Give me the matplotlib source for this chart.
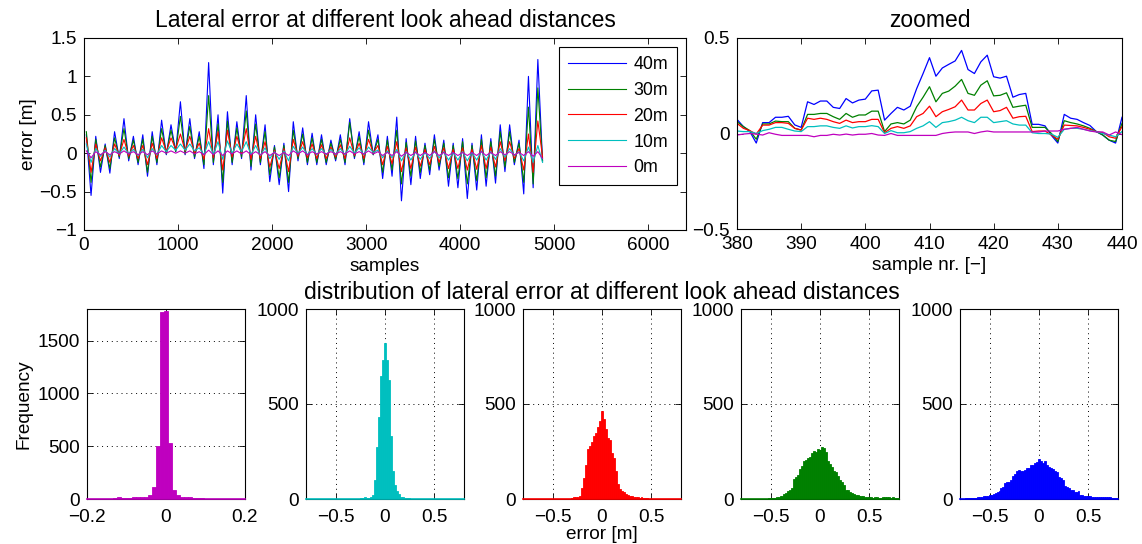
import numpy as np
import matplotlib
matplotlib.use("Agg")
import matplotlib.pyplot as plt
from matplotlib.ticker import FuncFormatter

plt.rcParams['font.family'] = ['Liberation Sans', 'DejaVu Sans']
plt.rcParams['font.size'] = 13.7

# colours (old matlab default order)
col = {'40m': (0, 0, 1), '30m': (0, 0.5, 0), '20m': (1, 0, 0),
       '10m': (0, 0.75, 0.75), '0m': (0.75, 0, 0.75)}
labels = ['40m', '30m', '20m', '10m', '0m']

# --- lateral error, read per 100-sample window: max and min of each series
win_start = np.arange(0, 4900, 100)
hi_40 = [0.24, 0.22, 0.12, 0.28, 0.45, 0.22, 0.24, 0.28, 0.43, 0.37, 0.67, 0.45, 0.28, 1.18, 0.50, 0.54, 0.41,
         0.75, 0.50, 0.37, 0.10, 0.13, 0.41, 0.33, 0.26, 0.24, 0.17, 0.24, 0.45, 0.28, 0.41, 0.24, 0.22, 0.47,
         0.19, 0.22, 0.13, 0.24, 0.17, 0.13, 0.19, 0.13, 0.24, 0.19, 0.37, 0.37, 0.17, 1.00, 1.22]
lo_40 = [-0.55, -0.25, -0.26, -0.07, -0.10, -0.15, -0.30, -0.15, -0.02, 0.02, -0.02, -0.07, -0.20, -0.15, -0.52,
         -0.15, -0.07, -0.22, -0.15, -0.37, -0.41, -0.50, -0.10, -0.15, -0.15, -0.15, -0.10, -0.15, -0.07, -0.15,
         -0.02, -0.33, -0.30, -0.62, -0.41, -0.33, -0.28, -0.22, -0.43, -0.45, -0.59, -0.48, -0.43, -0.39, -0.24,
         -0.15, -0.53, -0.45, -0.10]
hi_30 = [0.28, 0.18, 0.10, 0.20, 0.32, 0.17, 0.18, 0.22, 0.32, 0.30, 0.48, 0.35, 0.22, 0.75, 0.38, 0.42, 0.33,
         0.55, 0.38, 0.28, 0.08, 0.10, 0.30, 0.25, 0.20, 0.18, 0.13, 0.18, 0.40, 0.22, 0.30, 0.18, 0.17, 0.30,
         0.14, 0.16, 0.10, 0.18, 0.13, 0.10, 0.15, 0.10, 0.18, 0.15, 0.28, 0.28, 0.13, 0.60, 0.85]
lo_30 = [-0.38, -0.18, -0.20, -0.05, -0.07, -0.12, -0.25, -0.12, -0.01, 0.02, -0.01, -0.05, -0.15, -0.12, -0.38,
         -0.12, -0.05, -0.17, -0.12, -0.28, -0.32, -0.38, -0.07, -0.12, -0.12, -0.12, -0.08, -0.12, -0.05, -0.12,
         -0.02, -0.25, -0.22, -0.40, -0.30, -0.25, -0.22, -0.17, -0.32, -0.33, -0.40, -0.36, -0.32, -0.30, -0.18,
         -0.12, -0.38, -0.40, -0.10]
hi_20 = [0.20, 0.12, 0.07, 0.12, 0.18, 0.10, 0.10, 0.13, 0.20, 0.20, 0.25, 0.22, 0.13, 0.32, 0.28, 0.30, 0.22,
         0.32, 0.22, 0.15, 0.04, 0.06, 0.18, 0.15, 0.12, 0.11, 0.08, 0.11, 0.20, 0.13, 0.18, 0.10, 0.09, 0.15,
         0.07, 0.08, 0.05, 0.09, 0.07, 0.05, 0.07, 0.05, 0.10, 0.08, 0.15, 0.15, 0.06, 0.25, 0.42]
lo_20 = [-0.25, -0.10, -0.12, -0.03, -0.04, -0.07, -0.15, -0.07, 0.02, 0.05, 0.03, 0.00, -0.08, -0.06, -0.22,
         -0.05, 0.00, -0.08, -0.07, -0.18, -0.20, -0.24, -0.04, -0.06, -0.07, -0.07, -0.05, -0.07, -0.03, -0.07,
         0.00, -0.15, -0.14, -0.24, -0.20, -0.17, -0.15, -0.12, -0.20, -0.20, -0.22, -0.21, -0.20, -0.18, -0.10,
         -0.07, -0.22, -0.25, -0.05]
hi_10 = [0.12, 0.06, 0.04, 0.06, 0.08, 0.05, 0.05, 0.06, 0.10, 0.10, 0.12, 0.12, 0.07, 0.15, 0.15, 0.16, 0.12,
         0.15, 0.10, 0.07, 0.02, 0.03, 0.09, 0.08, 0.06, 0.06, 0.05, 0.06, 0.09, 0.07, 0.08, 0.04, 0.03, 0.05,
         0.02, 0.02, 0.01, 0.03, 0.02, 0.01, 0.02, 0.01, 0.03, 0.02, 0.06, 0.06, 0.02, 0.08, 0.10]
lo_10 = [-0.12, -0.04, -0.05, -0.01, -0.01, -0.03, -0.06, -0.02, 0.02, 0.04, 0.04, 0.03, -0.02, -0.02, -0.08,
         0.00, 0.02, -0.02, -0.03, -0.07, -0.08, -0.10, -0.01, -0.02, -0.02, -0.02, -0.02, -0.02, 0.00, -0.02,
         0.01, -0.06, -0.06, -0.10, -0.09, -0.08, -0.07, -0.06, -0.09, -0.09, -0.10, -0.09, -0.09, -0.08, -0.05,
         -0.03, -0.10, -0.12, -0.12]
hi_0 = [0.03, 0.02, 0.02, 0.02, 0.03, 0.02, 0.02, 0.03, 0.03, 0.03, 0.03, 0.03, 0.02, 0.04, 0.03, 0.03, 0.03,
        0.03, 0.02, 0.02, 0.01, 0.01, 0.03, 0.03, 0.02, 0.02, 0.02, 0.02, 0.03, 0.02, 0.03, 0.02, 0.01, 0.02,
        0.01, 0.01, 0.01, 0.02, 0.01, 0.01, 0.01, 0.01, 0.02, 0.01, 0.02, 0.02, 0.01, 0.02, 0.02]
lo_0 = [-0.06, -0.02, -0.02, -0.01, -0.01, -0.02, -0.02, -0.01, 0.00, 0.00, 0.00, -0.01, -0.02, -0.02, -0.03,
        -0.01, -0.01, -0.02, -0.02, -0.03, -0.03, -0.03, -0.01, -0.02, -0.01, -0.01, -0.01, -0.01, -0.01, -0.01,
        -0.01, -0.03, -0.03, -0.04, -0.03, -0.03, -0.03, -0.03, -0.03, -0.03, -0.03, -0.03, -0.03, -0.03, -0.02,
        -0.02, -0.03, -0.04, -0.07]
hi_all = [hi_40, hi_30, hi_20, hi_10, hi_0]
lo_all = [lo_40, lo_30, lo_20, lo_10, lo_0]

# --- zoomed part, samples 380..440
zoom_x = np.arange(380, 441)
z_40 = [0.074, 0.036, 0.01, -0.05, 0.057, 0.057, 0.085, 0.085, 0.09, 0.045, 0.032, 0.166, 0.152, 0.17, 0.17,
        0.137, 0.131, 0.183, 0.16, 0.175, 0.18, 0.223, 0.227, 0.07, 0.105, 0.137, 0.123, 0.143, 0.235, 0.314,
        0.397, 0.30, 0.343, 0.362, 0.38, 0.435, 0.335, 0.314, 0.375, 0.41, 0.297, 0.29, 0.30, 0.19, 0.204, 0.21,
        0.048, 0.048, 0.04, -0.01, -0.05, 0.10, 0.08, 0.074, 0.057, 0.042, 0.01, -0.008, -0.035, -0.05, 0.085]
z_30 = [0.062, 0.036, 0.015, -0.03, 0.05, 0.05, 0.065, 0.062, 0.062, 0.027, 0.018, 0.10, 0.10, 0.105, 0.105,
        0.088, 0.074, 0.105, 0.085, 0.097, 0.097, 0.117, 0.117, 0.01, 0.05, 0.057, 0.05, 0.07, 0.14, 0.19,
        0.245, 0.166, 0.21, 0.222, 0.248, 0.283, 0.21, 0.20, 0.253, 0.276, 0.197, 0.20, 0.213, 0.137, 0.143,
        0.148, 0.032, 0.032, 0.032, 0.0, -0.042, 0.067, 0.057, 0.05, 0.04, 0.027, 0.01, -0.008, -0.035, -0.042,
        0.053]
z_20 = [0.053, 0.027, 0.015, -0.003, 0.044, 0.044, 0.057, 0.057, 0.053, 0.027, 0.018, 0.08, 0.074, 0.08, 0.074,
        0.062, 0.053, 0.07, 0.057, 0.062, 0.062, 0.074, 0.074, 0.004, 0.027, 0.036, 0.027, 0.04, 0.088, 0.105,
        0.143, 0.088, 0.114, 0.126, 0.14, 0.175, 0.123, 0.123, 0.157, 0.175, 0.114, 0.12, 0.137, 0.08, 0.088,
        0.09, 0.01, 0.013, 0.013, -0.008, -0.03, 0.044, 0.042, 0.04, 0.032, 0.022, 0.01, 0.004, -0.017, -0.025,
        0.036]
z_10 = [0.013, 0.01, 0.01, 0.0, 0.015, 0.022, 0.032, 0.032, 0.022, 0.013, 0.01, 0.036, 0.036, 0.04, 0.04,
        0.032, 0.027, 0.04, 0.029, 0.036, 0.036, 0.041, 0.036, 0.0, 0.015, 0.004, 0.004, 0.01, 0.027, 0.04,
        0.062, 0.032, 0.057, 0.062, 0.07, 0.085, 0.067, 0.057, 0.085, 0.085, 0.057, 0.062, 0.067, 0.05, 0.044,
        0.044, 0.004, 0.0, 0.0, -0.003, -0.02, 0.022, 0.027, 0.027, 0.022, 0.015, 0.01, 0.0, -0.008, -0.017,
        0.01]
z_0 = [-0.008, -0.003, 0.0, -0.003, -0.008, 0.004, -0.004, -0.01, -0.01, -0.01, -0.01, -0.01, -0.017, -0.01,
       -0.01, -0.004, -0.008, -0.003, -0.008, -0.004, -0.004, 0.0, -0.008, -0.01, 0.0, -0.01, -0.01, -0.01,
       -0.01, -0.01, -0.01, -0.01, 0.0, 0.005, 0.008, 0.008, 0.008, 0.0, 0.008, 0.013, 0.008, 0.008, 0.008,
       0.008, 0.008, 0.008, 0.008, 0.008, 0.013, 0.013, 0.013, 0.022, 0.027, 0.032, 0.022, 0.013, 0.008, 0.008,
       -0.008, 0.008, -0.006]
zoom_all = [z_40, z_30, z_20, z_10, z_0]

# --- histogram counts
h0_counts = [2, 2, 2, 2, 2, 3, 3, 5, 15, 8, 6, 12, 15, 15, 15, 20, 35, 110, 500, 1770, 1780, 530, 85, 35, 20,
             20, 18, 8, 5, 5, 4, 4, 4, 3, 3, 3, 3, 3, 3, 3, 3]          # bins of 0.01 from -0.2
h10_counts = [0] * 27 + [2, 3, 5, 8, 5, 6, 12, 22, 100, 275, 430, 650, 730, 820, 730, 625, 330, 145, 75, 40,
                         25, 12, 8, 5, 4, 3, 2, 1] + [0] * 26            # bins of 0.02 from -0.8
h20_counts = [0] * 25 + [3, 8, 10, 12, 15, 60, 110, 180, 265, 280, 300, 330, 350, 380, 410, 465, 420, 370, 320,
                         310, 240, 215, 150, 80, 55, 40, 35, 25, 20, 18, 15, 12, 10, 8, 6, 8, 5, 5, 3, 2] + \
             [2, 1, 1] + [0] * 13
h30_counts = [0] * 10 + [1, 1, 2, 2] + \
             [3, 3, 4, 5, 8, 12, 15, 18, 25, 30, 40, 45, 60, 105, 115, 125, 160, 175, 200, 205, 215, 220, 240,
              255, 250, 265, 260, 275, 270, 245, 200, 185, 170, 145, 140, 120, 100, 90, 75, 50, 45, 38, 33, 28,
              22, 20, 16, 16, 15, 12, 12, 10, 8, 7, 8, 8, 6, 7, 8, 8, 9, 8, 7, 8, 6, 5, 3]
h40_counts = [2, 2, 2, 3, 3, 4, 5, 5, 6, 8, 10, 12, 14, 16, 18, 20, 22, 25, 30, 35, 42, 58, 62, 85, 88, 90,
              100, 120, 132, 150, 152, 148, 150, 155, 162, 165, 178, 180, 192, 197, 210, 200, 192, 198, 180, 170,
              165, 160, 148, 140, 118, 110, 100, 70, 62, 56, 50, 45, 38, 35, 42, 22, 20, 18, 16, 15, 14, 13, 12,
              12, 11, 10, 9, 9, 8, 8, 8, 7, 7, 6, 5]

W, H = 1142, 544


def box(x0, y0, x1, y1):
    return [x0 / W, 1 - y1 / H, (x1 - x0) / W, (y1 - y0) / H]


def fmt(v, pos):
    return ('%g' % v).replace('-', '\u2212')


def style(ax, xpad=5):
    ax.tick_params(direction='in', top=True, right=True, length=4, width=0.6, pad=5)
    ax.tick_params(axis='x', pad=xpad)
    for s in ax.spines.values():
        s.set_linewidth(0.8)
    ax.xaxis.set_major_formatter(FuncFormatter(fmt))
    ax.yaxis.set_major_formatter(FuncFormatter(fmt))


fig = plt.figure(figsize=(W / 100, H / 100), dpi=100)

# lateral error time series
ax1 = fig.add_axes(box(84, 38, 686, 230))
xs = np.column_stack([win_start + 25, win_start + 75]).ravel()
for lab, hi, lo in zip(labels, hi_all, lo_all):
    ys = np.column_stack([hi, lo]).ravel()
    ax1.plot(xs, ys, color=col[lab], lw=0.8, label=lab)
ax1.set_xlim(0, 6400)
ax1.set_ylim(-1, 1.5)
ax1.set_xticks(np.arange(0, 7000, 1000))
ax1.set_yticks([-1, -0.5, 0, 0.5, 1, 1.5])
ax1.set_title('Lateral error at different look ahead distances', pad=8)
ax1.set_xlabel('samples', labelpad=3)
ax1.set_ylabel('error [m]', labelpad=2)
style(ax1)
leg = ax1.legend(loc='upper right', bbox_to_anchor=(0.985, 0.953), borderaxespad=0, fancybox=False,
                 edgecolor='black', framealpha=1, fontsize=12.8, handlelength=3.3, labelspacing=0.5,
                 borderpad=0.5, handletextpad=0.4)
leg.get_frame().set_linewidth(0.8)

# zoomed
ax2 = fig.add_axes(box(737, 38, 1122, 229))
for lab, z in zip(labels, zoom_all):
    ax2.plot(zoom_x, z, color=col[lab], lw=0.9)
ax2.set_xlim(380, 440)
ax2.set_ylim(-0.5, 0.5)
ax2.set_yticks([-0.5, 0, 0.5])
ax2.set_title('zoomed', pad=8)
ax2.set_xlabel('sample nr. [\u2212]', labelpad=3)
style(ax2)

# histograms
hist_specs = [
    ('0m', h0_counts, -0.2, 0.01, (-0.2, 0.2), [-0.2, 0, 0.2], 1800, [0, 500, 1000, 1500], 87),
    ('10m', h10_counts, -0.8, 0.02, (-0.8, 0.8), [-0.5, 0, 0.5], 1000, [0, 500, 1000], 306),
    ('20m', h20_counts, -0.8, 0.02, (-0.8, 0.8), [-0.5, 0, 0.5], 1000, [0, 500, 1000], 523),
    ('30m', h30_counts, -0.8, 0.02, (-0.8, 0.8), [-0.5, 0, 0.5], 1000, [0, 500, 1000], 741),
    ('40m', h40_counts, -0.8, 0.02, (-0.8, 0.8), [-0.5, 0, 0.5], 1000, [0, 500, 1000], 960),
]
for i, (lab, counts, start, bw, xl, xt, ytop, yt, left) in enumerate(hist_specs):
    ax = fig.add_axes(box(left, 309, left + 158, 499))
    centers = start + bw * np.arange(len(counts))
    ax.bar(centers, counts, width=bw, color=col[lab], edgecolor=col[lab], linewidth=0.6, zorder=2)
    ax.plot(xl, [0, 0], color=col[lab], lw=1.2, zorder=3, clip_on=False)
    ax.set_xlim(*xl)
    ax.set_ylim(0, ytop)
    ax.set_xticks(xt)
    ax.set_yticks(yt)
    ax.grid(True, color='black', linestyle=(0, (1, 4)), linewidth=0.7, zorder=1)
    ax.set_axisbelow(True)
    style(ax, xpad=7)
    if i == 0:
        ax.set_ylabel('Frequency', labelpad=4)
    if i == 2:
        ax.set_xlabel('error [m]', labelpad=0)
        ax.set_title('distribution of lateral error at different look ahead distances', pad=7)

fig.savefig('out.png', dpi=100)
